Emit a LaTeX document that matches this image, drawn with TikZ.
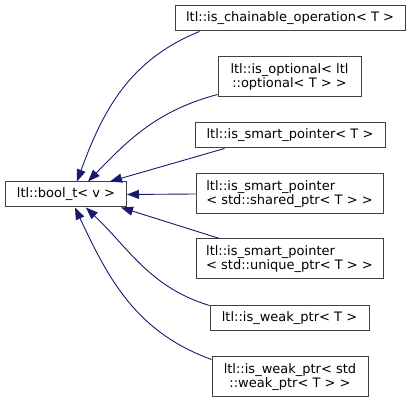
\documentclass[tikz,border=0pt]{standalone}
\usepackage{fontspec}
\setmainfont{DejaVu Sans}
\usetikzlibrary{arrows.meta}
\definecolor{edgeblue}{RGB}{25,25,112}

\begin{document}
\begin{tikzpicture}[x=1pt, y=1pt,
                cls/.style={draw=black!75, line width=1pt, rectangle, minimum height=25pt, inner sep=0pt, font=\fontsize{13}{14}\selectfont, align=center},
                tallcls/.style={cls, minimum height=40pt},
                inh/.style={draw=edgeblue, line width=0.9pt, {Triangle[length=12pt,width=9pt]}-}
            ]
            \useasboundingbox (0,0) rectangle (411,403);

            % Knoten
            \node[cls, minimum width=121pt] (base) at (66,208.5) {ltl::bool\_t< v >};
            \node[cls, minimum width=230pt] (chain) at (290,384.5) {ltl::is\_chainable\_operation< T >};
            \node[tallcls, minimum width=143pt] (opt) at (289.5,326) {ltl::is\_optional< ltl\\::optional< T > >};
            \node[cls, minimum width=190pt] (smart) at (290,267.5) {ltl::is\_smart\_pointer< T >};
            \node[tallcls, minimum width=187pt, align=left] (shared) at (289.5,209) {ltl::is\_smart\_pointer\\< std::shared\_ptr< T > >};
            \node[tallcls, minimum width=187pt, align=left] (unique) at (289.5,144) {ltl::is\_smart\_pointer\\< std::unique\_ptr< T > >};
            \node[cls, minimum width=159pt] (weak) at (289.5,84.5) {ltl::is\_weak\_ptr< T >};
            \node[tallcls, minimum width=156pt] (stdweak) at (290,26) {ltl::is\_weak\_ptr< std\\::weak\_ptr< T > >};

            % Kanten zur Basisklasse
            \draw[inh] ([xshift=11pt]base.north) to[out=70, in=202] ([xshift=25pt]chain.south west);
            \draw[inh] ([xshift=22pt]base.north) to[out=46, in=195] ([yshift=3pt]opt.south west);
            \draw[inh] ([xshift=-17pt]base.north east) -- ([xshift=30pt]smart.south west);
            \draw[inh] (base.east) -- (shared.west);
            \draw[inh] ([xshift=-6pt]base.south east) -- ([xshift=24pt]unique.north west);
            \draw[inh] ([xshift=20pt]base.south) to[out=-44, in=163] (weak.north west);
            \draw[inh] ([xshift=9pt]base.south) to[out=-65, in=160] ([yshift=-3pt]stdweak.north west);

        \end{tikzpicture}
\end{document}
